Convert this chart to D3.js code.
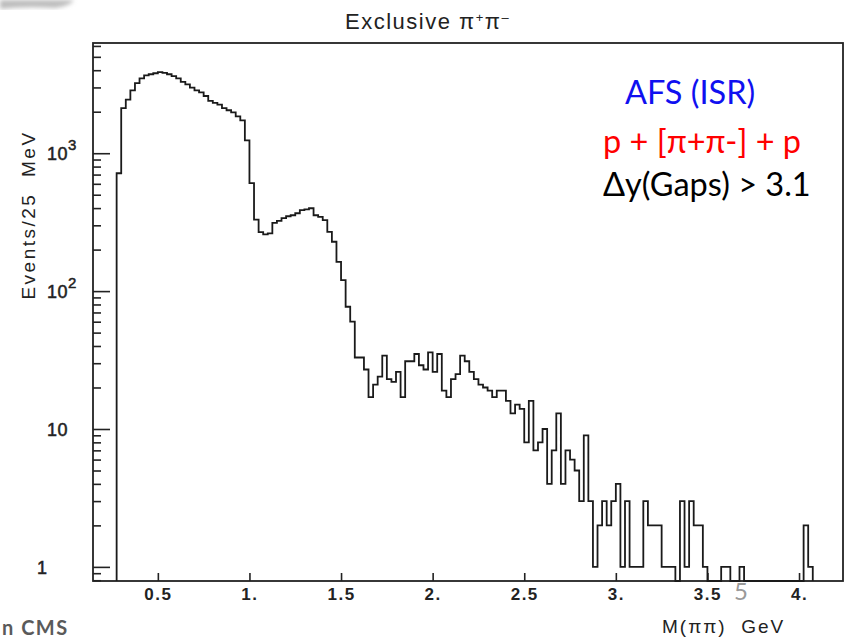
<!DOCTYPE html>
<html lang="en">
<head>
<meta charset="UTF-8">
<title>Exclusive pi+ pi-</title>
<script src="https://d3js.org/d3.v7.min.js"></script>
<style>
  body { margin: 0; background: #fff; }
  svg { display: block; }
  .scan { font-family: "Liberation Sans", Arial, sans-serif; fill: #222; }
  .note { font-family: Lato, "Open Sans", sans-serif; }
</style>
</head>
<body>
<svg id="chart" width="846" height="641"></svg>
<script>
// histogram: 25 MeV bins starting at 0.275 GeV
const binStart = 0.275;
const binWidth = 0.025;
// 0.275 - 1.0 GeV
const countsRho = [716, 2120, 2450, 2860, 3220, 3490, 3670, 3740, 3800, 3870,
  3830, 3740, 3620, 3490, 3290, 3160, 2990, 2860, 2760, 2600,
  2400, 2320, 2250, 2120, 2050, 1980, 1850, 1730, 1240];
// 1.0 - 1.6 GeV
const countsF2 = [606, 330, 268, 258, 262, 313, 323, 338, 349, 355,
  367, 387, 392, 399, 355, 346, 327, 269, 228, 163,
  120, 77, 60, 33];
// 1.6 - 2.5 GeV
const countsMid = [33, 27, 17, 21, 24, 34, 23, 22, 26, 17,
  31, 31, 35, 29, 27, 36, 26, 35, 19, 17,
  23, 25, 34, 31, 26, 23, 21, 20, 19, 17,
  19, 19, 16, 13, 15, 14];
// 2.5 GeV and up
const countsTail = [8, 16, 7, 8, 10, 4, 7, 13, 4, 7,
  6, 5, 3, 9, 3, 1, 2, 3, 2, 3,
  4, 1, 3, 1, 1, 1, 3, 2, 2, 2,
  1, 1, 1, 0, 3, 1, 3, 2, 2, 1,
  0, 0, 0, 1, 1, 0, 0, 1, 0, 0,
  0, 0, 0, 0, 0, 0, 0, 0, 0, 0,
  0, 2, 1];

const xTicks = [0.5, 1, 1.5, 2, 2.5, 3, 3.5, 4];
const xTickLabels = ["0.5", "1.", "1.5", "2.", "2.5", "3.", "3.5", "4."];
const yMajor = [1, 10, 100, 1000];
const yMajorBase = ["1", "10", "10", "10"];
const yMajorExp = ["", "", "2", "3"];

const noteLines = ["AFS (ISR)", "p + [\u03c0+\u03c0-] + p", "\u0394y(Gaps) > 3.1"];
const noteColors = ["#1010f0", "#ff0000", "#000000"];

const svg = d3.select("#chart");
const margin = {left: 93, top: 43, right: 843, bottom: 581};

const x = d3.scaleLinear().domain([0.146, 4.24]).range([margin.left, margin.right]);
const y = d3.scaleLog().domain([0.79, 6300]).range([margin.bottom, margin.top]);

const counts = countsRho.concat(countsF2, countsMid, countsTail);
const bins = counts.map((c, i) => ({m: binStart + i * binWidth, v: c}));
const yv = v => v > 0 ? y(v) : margin.bottom;

// soft grey smudge at the top-left corner
const defs = svg.append("defs");
defs.append("filter").attr("id", "blur")
  .append("feGaussianBlur").attr("stdDeviation", 2);
svg.append("path")
  .attr("d", "M0,0 L74,0 Q70,6 55,8 Q25,6 0,9 Z")
  .attr("fill", "#bdbdbd")
  .attr("filter", "url(#blur)");

// frame
svg.append("rect")
  .attr("x", margin.left).attr("y", margin.top)
  .attr("width", margin.right - margin.left)
  .attr("height", margin.bottom - margin.top)
  .attr("fill", "none").attr("stroke", "#222").attr("stroke-width", 1.8);

// y axis: minor and major ticks pointing inward
const yMinor = y.ticks().filter(t => !yMajor.includes(t));
const yAxisMinor = svg.append("g")
  .attr("transform", `translate(${margin.left},0)`)
  .call(d3.axisLeft(y).tickValues(yMinor).tickSize(-8).tickFormat(""));
const yAxisMajor = svg.append("g")
  .attr("transform", `translate(${margin.left},0)`)
  .call(d3.axisLeft(y).tickValues(yMajor).tickSize(-17).tickFormat(""));
[yAxisMinor, yAxisMajor].forEach(g => {
  g.select(".domain").remove();
  g.selectAll("line").attr("stroke", "#222").attr("stroke-width", 1.6);
});

const yLab = svg.append("g").attr("class", "scan");
yMajor.forEach((v, i) => {
  const t = yLab.append("text")
    .attr("x", i === 0 ? 37 : 47)
    .attr("y", y(v) + 7)
    .attr("font-size", 18)
    .attr("stroke", "#222").attr("stroke-width", 0.5)
    .attr("letter-spacing", 0.5)
    .text(yMajorBase[i]);
  if (yMajorExp[i]) {
    t.append("tspan").attr("dy", -10).attr("font-size", 15).text(yMajorExp[i]);
  }
});

// x axis
const xAxis = svg.append("g")
  .attr("transform", `translate(0,${margin.bottom})`)
  .call(d3.axisBottom(x).tickValues(xTicks).tickSize(-8).tickPadding(7)
    .tickFormat((d, i) => xTickLabels[i]));
xAxis.select(".domain").remove();
xAxis.selectAll("line").attr("stroke", "#222").attr("stroke-width", 1.6);
xAxis.selectAll("text")
  .attr("class", "scan")
  .attr("font-size", 17).attr("font-weight", "bold")
  .attr("letter-spacing", 1.5)
  .attr("fill", "#222");

// histogram outline
const pts = [{m: binStart, v: 0}].concat(bins, [{m: binStart + bins.length * binWidth, v: 0}]);
const line = d3.line()
  .x(d => x(d.m))
  .y(d => yv(d.v))
  .curve(d3.curveStepAfter);
svg.append("path")
  .datum(pts)
  .attr("d", line)
  .attr("fill", "none")
  .attr("stroke", "#1a1a1a")
  .attr("stroke-width", 1.8);

// titles
svg.append("text").attr("class", "scan")
  .attr("x", 345).attr("y", 29)
  .attr("font-family", "'DejaVu Sans', sans-serif")
  .attr("font-size", 22).attr("letter-spacing", 1.5)
  .html("Exclusive \u03c0<tspan dy='-7' font-size='13'>+</tspan><tspan dy='7'>\u03c0</tspan><tspan dy='-7' font-size='13'>\u2013</tspan>");

svg.append("text").attr("class", "scan")
  .attr("transform", "translate(35,215) rotate(-90)")
  .attr("text-anchor", "middle")
  .attr("font-size", 19).attr("letter-spacing", 2.5)
  .attr("xml:space", "preserve")
  .text("Events/25  MeV");

svg.append("text").attr("class", "scan")
  .attr("x", 662).attr("y", 633)
  .attr("font-size", 19).attr("letter-spacing", 2)
  .attr("xml:space", "preserve")
  .text("M(\u03c0\u03c0)  GeV");

// annotation block
const notes = svg.append("g").attr("class", "note");
noteLines.forEach((s, i) => {
  notes.append("text")
    .attr("x", i === 0 ? 625 : 603)
    .attr("y", [104, 153, 196][i])
    .attr("font-size", 32.5)
    .attr("fill", noteColors[i])
    .text(s);
});

// slide residue
svg.append("text").attr("class", "note")
  .attr("x", 734).attr("y", 600)
  .attr("font-size", 24).attr("fill", "#9a9a9a")
  .text("5");
svg.append("text").attr("class", "note")
  .attr("x", 2).attr("y", 635)
  .attr("font-size", 20).attr("font-weight", "bold").attr("fill", "#5a5a5a")
  .attr("letter-spacing", 1.5)
  .text("n CMS");
</script>
</body>
</html>
